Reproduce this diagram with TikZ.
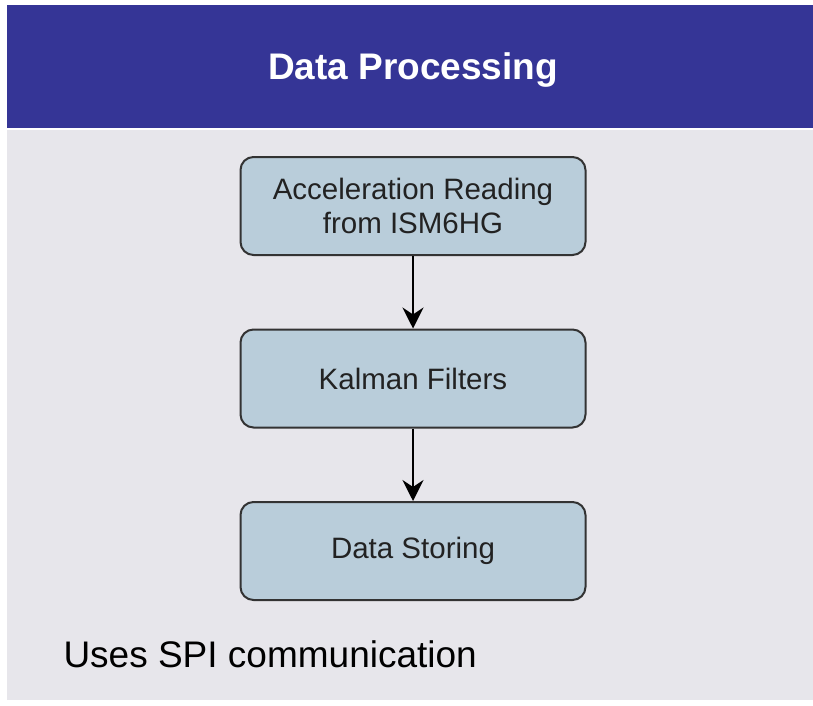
\documentclass[tikz,border=0pt]{standalone}
\usepackage{fontspec}
\setmainfont{Liberation Sans}
\usetikzlibrary{arrows.meta}
\definecolor{hdrblue}{HTML}{353596}
\definecolor{panelgray}{HTML}{E7E6EB}
\definecolor{boxfill}{HTML}{B9CDDA}
\definecolor{boxline}{HTML}{333333}
\definecolor{txtdark}{HTML}{222222}
\tikzset{
  flowbox/.style={draw=boxline, line width=2pt, fill=boxfill, rounded corners=13pt,
    minimum width=345pt, minimum height=98pt, align=center, text=txtdark,
    font=\fontsize{29.5}{34}\selectfont, inner sep=0pt},
  flowarrow/.style={draw=black, line width=2pt, -{Stealth[length=21pt,width=21pt,inset=7pt]}}
}
\begin{document}
\begin{tikzpicture}[x=1pt,y=-1pt]
\useasboundingbox (0,0) rectangle (813,706);
\fill[white] (0,0) rectangle (813,706);
\fill[hdrblue] (7,5) rectangle (813,128);
\fill[panelgray] (7,130) rectangle (813,700);
\node[text=white, font=\fontsize{37}{44}\selectfont\bfseries] (title) at (413,70) {Data Processing};
\node[flowbox] (b1) at (413,206) {Acceleration Reading\\from ISM6HG};
\node[flowbox] (b2) at (413,378.5) {Kalman Filters};
\node[flowbox] (b3) at (413,551) {Data Storing};
\draw[flowarrow] (b1.south) -- (b2.north);
\draw[flowarrow] (b2.south) -- (b3.north);
\node[anchor=west, text=black, font=\fontsize{37}{44}\selectfont] (note) at (60,654) {Uses SPI communication};
\end{tikzpicture}
\end{document}
